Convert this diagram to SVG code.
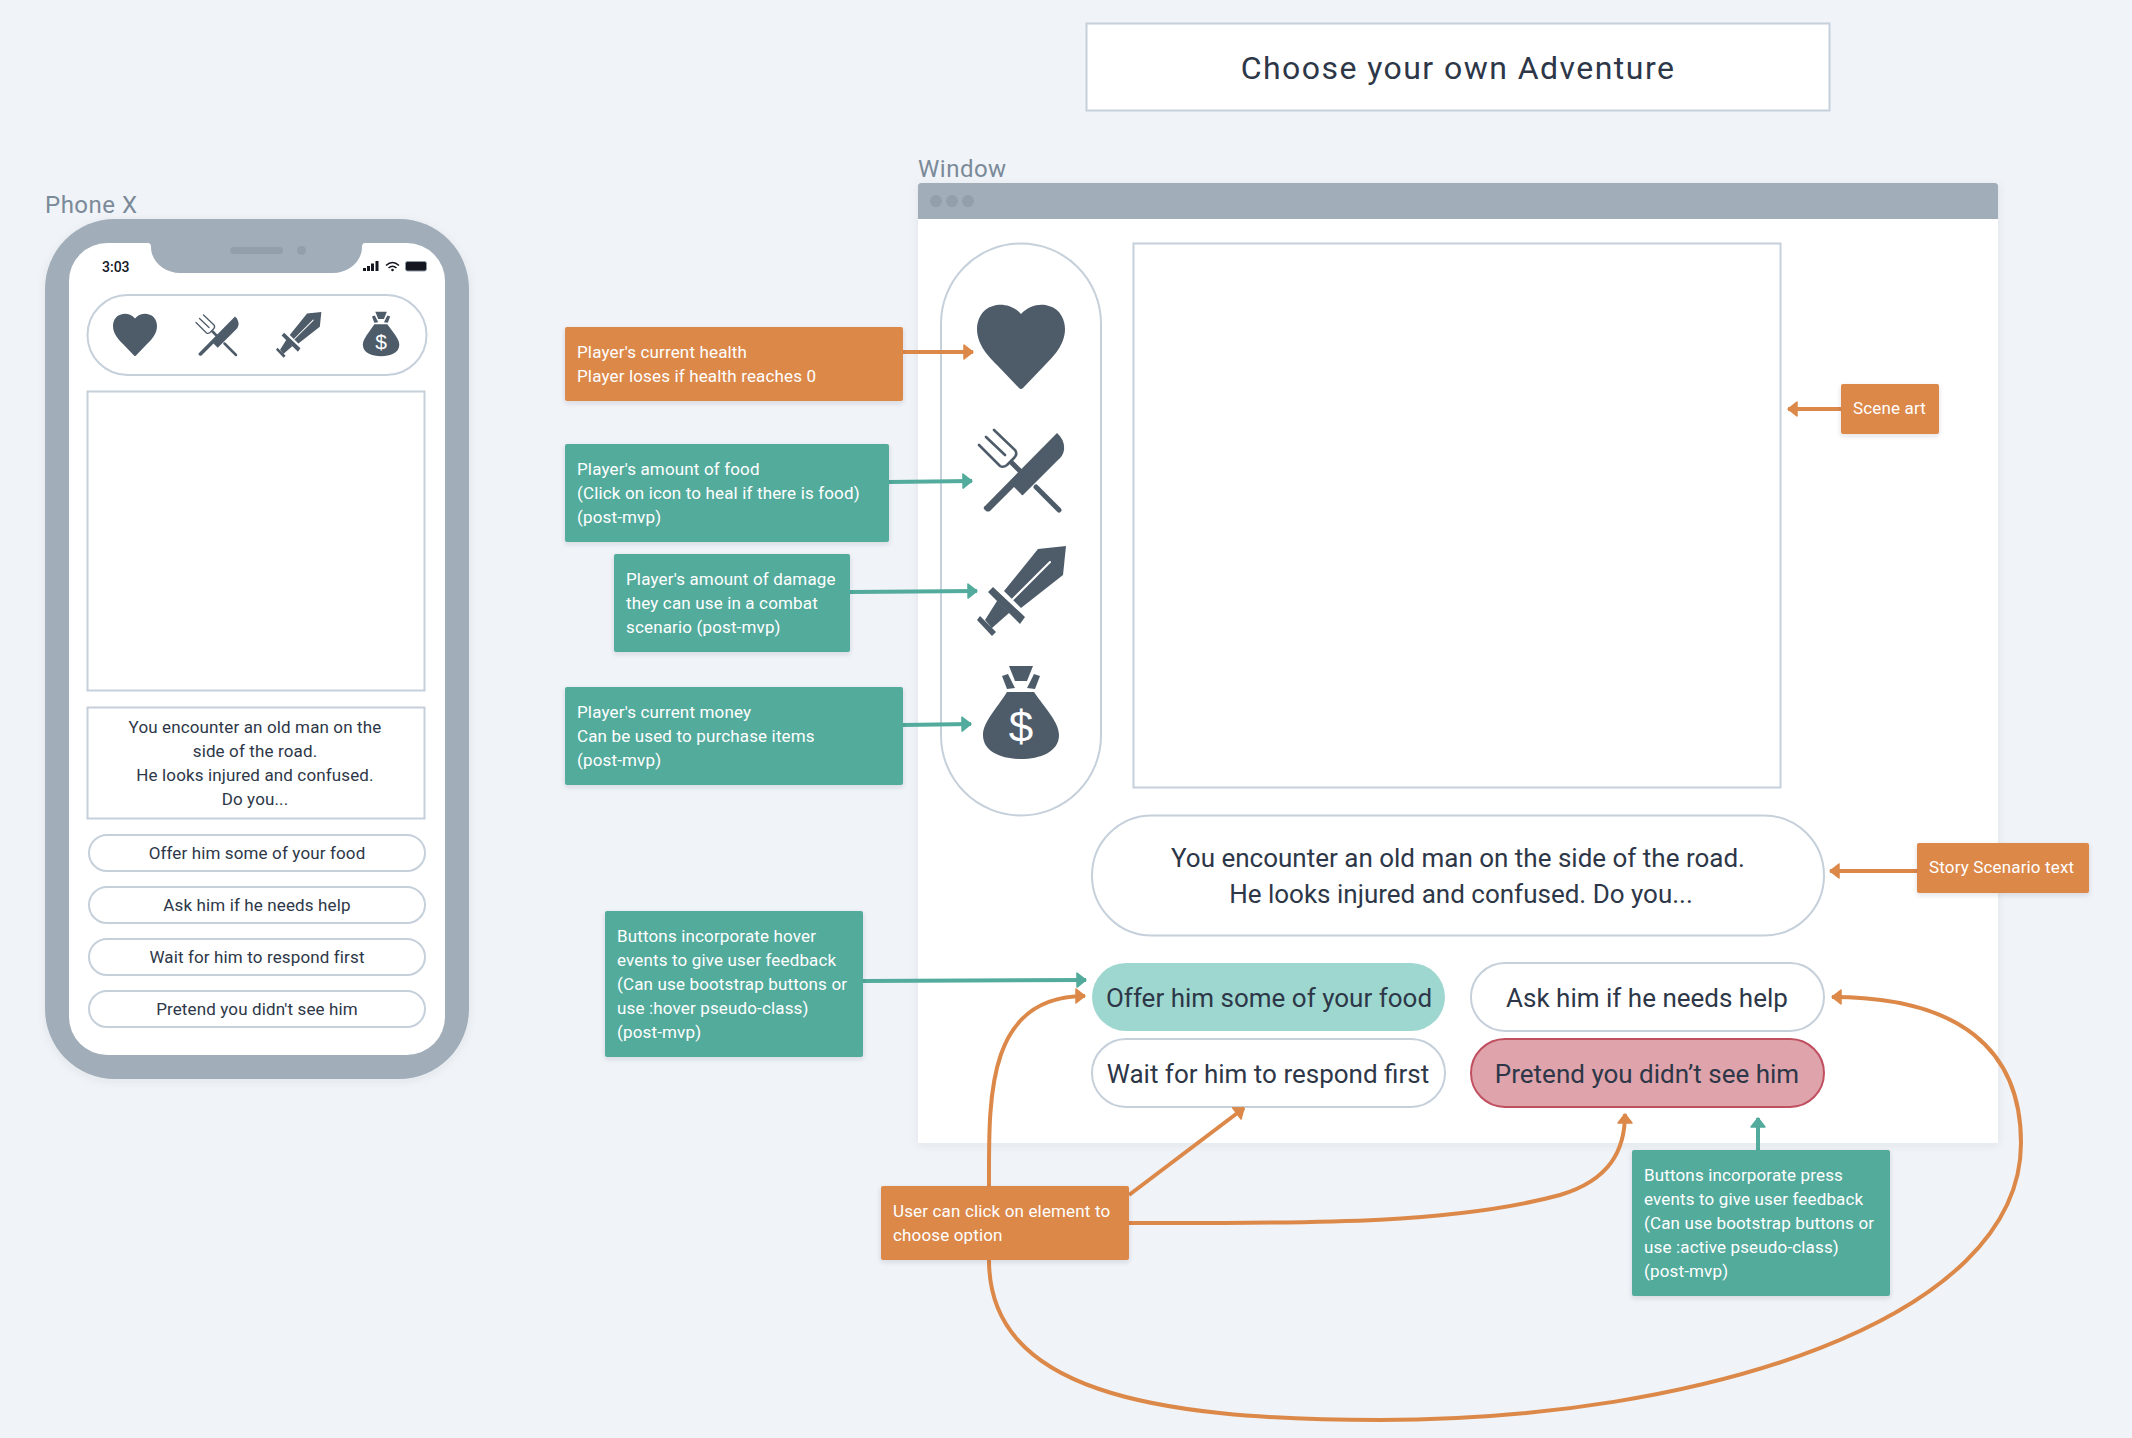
<svg xmlns="http://www.w3.org/2000/svg" width="2132" height="1438" viewBox="0 0 2132 1438">
<style>
text{font-family:Roboto,"Noto Sans",sans-serif;fill:#2d3748}
.lb{font-size:24px;fill:#7b8a99;letter-spacing:.5px}
.n{font-size:17px;fill:#fff;letter-spacing:.15px}
.p{font-size:17px;text-anchor:middle;letter-spacing:.13px}
.w{font-size:26px;text-anchor:middle}
.box{fill:#fff;stroke:#c5d0db;stroke-width:2}
.or{fill:#dc8849;filter:url(#sh)}
.te{fill:#52ab9c;filter:url(#sh)}
.ic{fill:#4e5c6a}
.c{fill:none;stroke-width:4}
.co{stroke:#dc8849;marker-end:url(#ao)}
.ct{stroke:#52ab9c;marker-end:url(#at)}
</style>
<defs>
<filter id="sh" x="-10%" y="-10%" width="120%" height="130%"><feDropShadow dx="0" dy="2" stdDeviation="2.5" flood-color="#2d3748" flood-opacity=".14"/></filter>
<filter id="sw" x="-3%" y="-3%" width="106%" height="106%"><feDropShadow dx="0" dy="2" stdDeviation="5" flood-color="#2d3748" flood-opacity=".07"/></filter>
<marker id="ao" markerUnits="userSpaceOnUse" markerWidth="16" markerHeight="20" refX="10" refY="8" orient="auto" overflow="visible"><path d="M1 1 L10 8 L1 15Z" fill="#dc8849" stroke="#dc8849" stroke-linejoin="round" stroke-width="1.5"/></marker>
<marker id="at" markerUnits="userSpaceOnUse" markerWidth="16" markerHeight="20" refX="10" refY="8" orient="auto" overflow="visible"><path d="M1 1 L10 8 L1 15Z" fill="#52ab9c" stroke="#52ab9c" stroke-linejoin="round" stroke-width="1.5"/></marker>
<g id="i-heart"><path class="ic" d="M0 -33C8 -42 20 -44 28 -41C40 -38 44 -26 44 -18C44 -2 32 10 24 18L2 41Q0 43 -2 41L-24 18C-32 10 -44 -2 -44 -18C-44 -26 -40 -38 -28 -41C-20 -44 -8 -42 0 -33Z"/></g>
<g id="i-fork"><path class="ic" d="M97 13Q105 20 104 30Q103 36 98 40L63 75Q62 76 61 74L54 67L30 91Q28 92 26 91L24 89Q23 87 25 86Z"/><path d="M34 10L55 30Q58 34 54 38L47 45Q43 48 40 46L19 25M26 17L45 35" fill="none" stroke="#4e5c6a" stroke-width="2.6" stroke-linecap="round"/><path d="M52 43L60 51M76 67L99 90" fill="none" stroke="#4e5c6a" stroke-width="5" stroke-linecap="round"/></g>
<g id="i-sword"><path class="ic" d="M166 46L138 49L104 91L121 108L163 75Z"/><path d="M150 62L113 99" stroke="#fff" stroke-width="2" stroke-linecap="round"/><path class="ic" d="M93 87L125 117L120 124L88 92ZM97 101L109 113L92 128L85 120ZM77 120L80 116L96 132L92 136Z"/></g>
<g id="i-bag"><path class="ic" d="M109 166H133L127 181H115ZM102 176L108 174L115 188L107 189ZM140 176L134 174L127 188L135 189ZM107 192H134C145 208 159 222 159 235C159 252 140 259 121 259C102 259 83 252 83 235C83 222 97 208 107 192Z"/></g>
</defs>
<rect width="2132" height="1438" fill="#f0f3f7"/>
<g id="title"><rect x="1086.500" y="23.500" width="743" height="87" fill="#fff" stroke="#c5d0db" stroke-width="2"/><text x="1458" y="79" text-anchor="middle" style="font-size:32px;letter-spacing:1.45px">Choose your own Adventure</text></g>
<g id="phone">
<text class="lb" x="45" y="213">Phone X</text>
<rect x="45" y="219" width="424" height="860" rx="70" fill="#a1adb9" filter="url(#sw)"/>
<rect x="69" y="243" width="376" height="812" rx="38" fill="#fff"/>
<path d="M143 241V243H148Q151 243 151 247C151 262 165 273 180 273H333C348 273 362 262 362 247Q362 243 365 243H370V241Z" fill="#a1adb9"/>
<rect x="230" y="247" width="53" height="7" rx="3.500" fill="#939fab"/><circle cx="301.500" cy="250.500" r="4.500" fill="#939fab"/>
<text x="102" y="272" style="font-size:14px;font-weight:500;fill:#14171f">3:03</text>
<path d="M363 268h3v3h-3zM367 266h3v5h-3zM371 263.500h3v7.500h-3zM375.500 261h3v10h-3z" fill="#14171f"/>
<path d="M386 265.500Q392.500 259.500 399 265.500M388.500 268Q392.500 264.500 396.500 268" fill="none" stroke="#14171f" stroke-width="1.600"/><circle cx="392.500" cy="270" r="1.300" fill="#14171f"/>
<rect x="405.500" y="261.500" width="21" height="9.500" rx="2" fill="#14171f" stroke="#8f99a3"/>
<g id="phone-bar"><rect class="box" x="87.500" y="295" width="339" height="80" rx="40"/>
<use href="#i-heart" transform="translate(135 335) scale(.5)"/>
<use href="#i-fork" transform="translate(186.500 310) scale(.5)"/>
<use href="#i-sword" transform="translate(236.700 288.500) scale(.51)"/>
<use href="#i-bag" transform="translate(323 232) scale(.48)"/><text x="381" y="349" text-anchor="middle" style="font-family:'Liberation Sans',sans-serif;font-size:21px;fill:#fff">$</text></g>
<rect class="box" x="87.500" y="391.500" width="337" height="299"/>
<g id="phone-story"><rect class="box" x="87.500" y="707.500" width="337" height="111"/>
<text class="p" x="255" y="733">You encounter an old man on the</text><text class="p" x="255" y="757">side of the road.</text><text class="p" x="255" y="781">He looks injured and confused.</text><text class="p" x="255" y="805">Do you...</text></g>
<g id="phone-b1"><rect class="box" x="89" y="835" width="336" height="36" rx="18"/><text class="p" x="257" y="859">Offer him some of your food</text></g>
<g id="phone-b2"><rect class="box" x="89" y="887" width="336" height="36" rx="18"/><text class="p" x="257" y="911">Ask him if he needs help</text></g>
<g id="phone-b3"><rect class="box" x="89" y="939" width="336" height="36" rx="18"/><text class="p" x="257" y="963">Wait for him to respond first</text></g>
<g id="phone-b4"><rect class="box" x="89" y="991" width="336" height="36" rx="18"/><text class="p" x="257" y="1015">Pretend you didn't see him</text></g>
</g>
<g id="window">
<text class="lb" x="918" y="177">Window</text>
<rect x="918" y="183" width="1080" height="960" fill="#fff" filter="url(#sw)"/>
<path d="M918 219V186Q918 183 921 183H1995Q1998 183 1998 186V219Z" fill="#a1adb9"/>
<circle cx="936" cy="201" r="6" fill="#939fab"/><circle cx="952" cy="201" r="6" fill="#939fab"/><circle cx="968" cy="201" r="6" fill="#939fab"/>
<rect class="box" x="941" y="243.500" width="160" height="572" rx="80"/>
<use href="#i-heart" transform="translate(1021 347)"/>
<use href="#i-fork" transform="translate(960 420)"/>
<use href="#i-sword" transform="translate(900 500)"/>
<use href="#i-bag" transform="translate(900 500)"/><text x="1021" y="742" text-anchor="middle" style="font-family:'Liberation Sans',sans-serif;font-size:44px;fill:#fff">$</text>
<rect class="box" x="1133.500" y="243.500" width="647" height="544"/>
<g id="w-story"><rect class="box" x="1092" y="815.500" width="732" height="120" rx="60"/>
<text class="w" x="1458" y="867">You encounter an old man on the side of the road.</text><text class="w" x="1461" y="903">He looks injured and confused. Do you...</text></g>
<g id="w-b1"><rect x="1092" y="963" width="353" height="68" rx="34" fill="#9ed7cf"/><text class="w" x="1269" y="1007">Offer him some of your food</text></g>
<g id="w-b2"><rect class="box" x="1471" y="963" width="353" height="68" rx="34"/><text class="w" x="1647" y="1007">Ask him if he needs help</text></g>
<g id="w-b3"><rect class="box" x="1092" y="1039" width="353" height="68" rx="34"/><text class="w" x="1268" y="1083">Wait for him to respond first</text></g>
<g id="w-b4"><rect x="1471" y="1039" width="353" height="68" rx="34" fill="#dfa4ab" stroke="#c04f60" stroke-width="2"/><text class="w" x="1647" y="1083">Pretend you didn’t see him</text></g>
</g>
<g id="connectors">
<path class="c co" d="M903 352L973 352"/>
<path class="c ct" d="M889 482L972 481"/>
<path class="c ct" d="M850 592L977 591"/>
<path class="c ct" d="M903 725L971 724"/>
<path class="c co" d="M1841 409H1788"/>
<path class="c co" d="M1917 871L1830 871"/>
<path class="c ct" d="M863 981L1086 980"/>
<path class="c co" d="M989 1186C989 1100 985 996 1085 996"/>
<path class="c co" d="M989 1260C989 1390 1150 1420 1380 1420C1700 1420 2021 1320 2021 1143C2021 1050 1960 997 1832 997"/>
<path class="c co" d="M1129 1195L1244 1108"/>
<path class="c co" d="M1129 1223C1300 1223 1450 1225 1560 1195C1610 1180 1625 1150 1625 1114"/>
<path class="c ct" d="M1758 1150V1118"/>
</g>
<g id="n-health"><rect class="or" x="565" y="327" width="338" height="74" rx="2"/><text class="n" x="577" y="358">Player's current health</text><text class="n" x="577" y="382">Player loses if health reaches 0</text></g>
<g id="n-food"><rect class="te" x="565" y="444" width="324" height="98" rx="2"/><text class="n" x="577" y="475">Player's amount of food</text><text class="n" x="577" y="499">(Click on icon to heal if there is food)</text><text class="n" x="577" y="523">(post-mvp)</text></g>
<g id="n-damage"><rect class="te" x="614" y="554" width="236" height="98" rx="2"/><text class="n" x="626" y="585">Player's amount of damage</text><text class="n" x="626" y="609">they can use in a combat</text><text class="n" x="626" y="633">scenario (post-mvp)</text></g>
<g id="n-money"><rect class="te" x="565" y="687" width="338" height="98" rx="2"/><text class="n" x="577" y="718">Player's current money</text><text class="n" x="577" y="742">Can be used to purchase items</text><text class="n" x="577" y="766">(post-mvp)</text></g>
<g id="n-hover"><rect class="te" x="605" y="911" width="258" height="146" rx="2"/><text class="n" x="617" y="942">Buttons incorporate hover</text><text class="n" x="617" y="966">events to give user feedback</text><text class="n" x="617" y="990">(Can use bootstrap buttons or</text><text class="n" x="617" y="1014">use :hover pseudo-class)</text><text class="n" x="617" y="1038">(post-mvp)</text></g>
<g id="n-scene"><rect class="or" x="1841" y="384" width="98" height="50" rx="2"/><text class="n" x="1853" y="414">Scene art</text></g>
<g id="n-story"><rect class="or" x="1917" y="843" width="172" height="50" rx="2"/><text class="n" x="1929" y="873">Story Scenario text</text></g>
<g id="n-user"><rect class="or" x="881" y="1186" width="248" height="74" rx="2"/><text class="n" x="893" y="1217">User can click on element to</text><text class="n" x="893" y="1241">choose option</text></g>
<g id="n-press"><rect class="te" x="1632" y="1150" width="258" height="146" rx="2"/><text class="n" x="1644" y="1181">Buttons incorporate press</text><text class="n" x="1644" y="1205">events to give user feedback</text><text class="n" x="1644" y="1229">(Can use bootstrap buttons or</text><text class="n" x="1644" y="1253">use :active pseudo-class)</text><text class="n" x="1644" y="1277">(post-mvp)</text></g>
</svg>
